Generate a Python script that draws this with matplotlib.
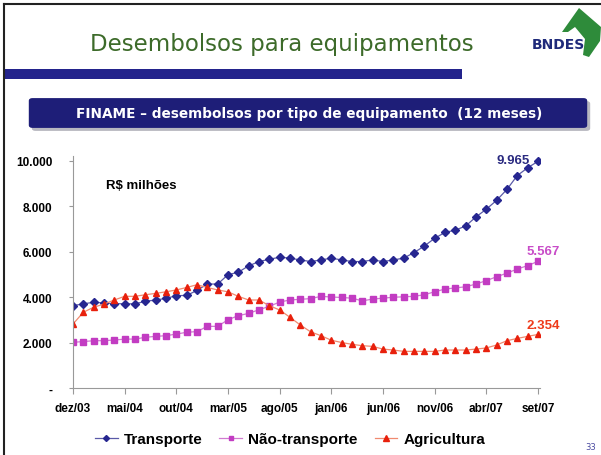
import matplotlib.pyplot as plt
from matplotlib.patches import FancyBboxPatch, Polygon, Rectangle
from matplotlib.lines import Line2D

# monthly series, dez/03 .. set/07 (R$ milhões, 12-month totals)
meses = ["dez/03", "mai/04", "out/04", "mar/05", "ago/05",
         "jan/06", "jun/06", "nov/06", "abr/07", "set/07"]
transporte = [3620, 3700, 3770, 3740, 3710, 3700, 3700, 3810, 3870, 3940,
              4060, 4070, 4290, 4570, 4570, 4980, 5090, 5370, 5560, 5660,
              5750, 5710, 5630, 5560, 5630, 5710, 5630, 5560, 5560, 5630,
              5560, 5630, 5710, 5950, 6240, 6580, 6840, 6940, 7120, 7520,
              7860, 8250, 8730, 9340, 9680, 9965]
nao_transporte = [2010, 2040, 2080, 2080, 2110, 2150, 2150, 2230, 2270, 2300,
                  2370, 2450, 2480, 2710, 2710, 3000, 3180, 3280, 3440, 3590,
                  3780, 3870, 3900, 3930, 4030, 4000, 3980, 3950, 3830, 3910,
                  3950, 3990, 4010, 4030, 4100, 4230, 4350, 4400, 4450, 4570,
                  4720, 4890, 5050, 5230, 5380, 5567]
agricultura = [2810, 3330, 3550, 3690, 3870, 4030, 4030, 4100, 4160, 4230,
               4310, 4420, 4540, 4420, 4310, 4230, 4030, 3870, 3870, 3620,
               3430, 3110, 2770, 2470, 2300, 2100, 2000, 1920, 1860, 1830,
               1710, 1670, 1610, 1610, 1610, 1610, 1670, 1670, 1670, 1710,
               1760, 1890, 2080, 2180, 2270, 2354]
yticks = [0, 2000, 4000, 6000, 8000, 10000]
ylabels = ["-", "2.000", "4.000", "6.000", "8.000", "10.000"]

W, H = 601, 456
fig = plt.figure(figsize=(W / 100, H / 100), dpi=100)
fig.patch.set_facecolor("white")

def fx(px):
    return px / W

def fy(py):
    return 1 - py / H

# slide frame, title and rule
fig.add_artist(Line2D([fx(4), fx(4)], [0, fy(5)], color="#222222", lw=1.5))
fig.add_artist(Line2D([fx(4), 1], [fy(5), fy(5)], color="#222222", lw=1.5))
fig.text(fx(282), fy(45), "Desembolsos para equipamentos", ha="center", va="center",
         fontsize=16.5, color="#3d6b2a", family="DejaVu Sans")
fig.add_artist(Rectangle((fx(5), fy(80)), fx(457), 10 / H, color="#23238c", lw=0))

# BNDES logo
logo = [(562, 33), (579, 9), (601, 28), (600, 42), (589, 58), (583, 56),
        (585, 40), (575, 28), (568, 33)]
fig.add_artist(Polygon([(fx(a), fy(b)) for a, b in logo], closed=True,
                       color="#2e8b3a", lw=0))
fig.text(fx(558), fy(45), "BNDES", ha="center", va="center", fontsize=10,
         fontweight="bold", color="#1f2a7a", family="Liberation Sans Narrow")

# heading banner
fig.add_artist(FancyBboxPatch((fx(33), fy(131)), fx(556), 28 / H,
                              boxstyle="round,pad=0.002,rounding_size=0.006",
                              color="#b8b8c0", lw=0))
fig.add_artist(FancyBboxPatch((fx(30), fy(128)), fx(556), 28 / H,
                              boxstyle="round,pad=0.002,rounding_size=0.006",
                              color="#1e1e78", lw=0))
fig.text(fx(309), fy(114), "FINAME – desembolsos por tipo de equipamento  (12 meses)",
         ha="center", va="center", fontsize=9.8, fontweight="bold", color="white",
         family="DejaVu Sans")

# chart
ax = fig.add_axes([fx(73), fy(389), fx(540 - 73), (389 - 157) / H])
x = list(range(len(transporte)))
ax.plot(x, transporte, color="#5a5aa8", lw=0.9, marker="D", ms=3.8,
        mfc="#262690", mec="#262690", label="Transporte")
ax.plot(x, nao_transporte, color="#d07ad0", lw=0.9, marker="s", ms=3.8,
        mfc="#c23cc2", mec="#c23cc2", label="Não-transporte")
ax.plot(x, agricultura, color="#f08a70", lw=0.9, marker="^", ms=4.8,
        mfc="#e8200c", mec="#e8200c", label="Agricultura")

ax.annotate("9.965", (x[-1], transporte[-1]), xytext=(-6, 1), textcoords="offset points",
            ha="right", va="center", fontsize=9.5, fontweight="bold", color="#2a2a80",
            family="Liberation Sans")
ax.annotate("5.567", (x[-1], nao_transporte[-1]), xytext=(-8, 7.5), textcoords="offset points",
            ha="left", va="center", fontsize=9.5, fontweight="bold", color="#c84cc8",
            family="Liberation Sans")
ax.annotate("2.354", (x[-1], agricultura[-1]), xytext=(-8, 7), textcoords="offset points",
            ha="left", va="center", fontsize=9.5, fontweight="bold", color="#ee3a1a",
            family="Liberation Sans")
ax.text(0.07, 0.86, "R$ milhões", transform=ax.transAxes, fontsize=9.5,
        fontweight="bold", family="Liberation Sans")

ax.set_xlim(0, 45.2)
ax.set_ylim(0, 10200)
ax.set_xticks(range(0, 46, 5))
ax.set_xticklabels(meses)
ax.set_yticks(yticks)
ax.set_yticklabels(ylabels)
for lbl in ax.get_xticklabels() + ax.get_yticklabels():
    lbl.set_family("Liberation Sans")
    lbl.set_fontweight("bold")
    lbl.set_fontsize(8.5)
ax.tick_params(axis="x", length=4, color="#999999", pad=6)
ax.tick_params(axis="y", length=3, color="#999999", pad=12)
for side in ["top", "right"]:
    ax.spines[side].set_visible(False)
for side in ["left", "bottom"]:
    ax.spines[side].set_color("#999999")
    ax.spines[side].set_linewidth(0.8)

fig.legend(loc="center", bbox_to_anchor=(fx(290), fy(440)), ncol=3, frameon=False,
           prop={"family": "Liberation Sans", "weight": "bold", "size": 11},
           handlelength=1.5, columnspacing=1.1, handletextpad=0.4, markerscale=0.8)
fig.text(fx(596), fy(448), "33", ha="right", va="center", fontsize=6, color="#4a4aa0")

fig.savefig("out.png", dpi=100)
